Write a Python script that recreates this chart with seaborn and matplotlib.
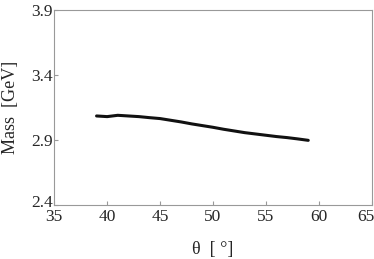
import numpy as np
import pandas as pd
import matplotlib
matplotlib.use("Agg")
import matplotlib.pyplot as plt
import matplotlib.transforms as mtransforms
import seaborn as sns

theta = [39, 40, 41, 42, 43, 44, 45, 46, 47, 48, 49, 50,
         51, 52, 53, 54, 55, 56, 57, 58, 59]
mass = [3.084, 3.079, 3.089, 3.084, 3.079, 3.071, 3.064, 3.051, 3.038, 3.023,
        3.010, 2.997, 2.982, 2.969, 2.956, 2.946, 2.936, 2.926, 2.918, 2.908, 2.897]
xticks = [35, 40, 45, 50, 55, 60, 65]
yticks = [2.4, 2.9, 3.4, 3.9]

sns.set_style("ticks")
plt.rcParams["font.family"] = ["Liberation Serif", "DejaVu Serif"]

df = pd.DataFrame({"theta": theta, "mass": mass})

fig, ax = plt.subplots(figsize=(3.74, 2.59), dpi=100)
sns.lineplot(data=df, x="theta", y="mass", color="#111111", linewidth=2.2, ax=ax)

ax.set_xlim(35, 65)
ax.set_ylim(2.4, 3.9)
ax.set_xticks(xticks)
ax.set_yticks(yticks)
ax.set_yticklabels([f"{v:.1f}" for v in yticks])
ax.tick_params(direction="in", length=3, color="#999999", labelsize=12.5)
ax.tick_params(axis="x", pad=3)
ax.tick_params(axis="y", pad=1)
for s in ax.spines.values():
    s.set_color("#999999")
    s.set_linewidth(0.8)
ax.set_xlabel("θ  [ °]", fontsize=13, labelpad=11)
ax.set_ylabel("Mass  [GeV]", fontsize=13, labelpad=9)

# lift the bottom y label a little so it clears the first x label
low = ax.get_yticklabels()[0]
low.set_transform(low.get_transform() + mtransforms.ScaledTranslation(0, 4 / 100, fig.dpi_scale_trans))
# keep the last x label inside the canvas
last = ax.get_xticklabels()[-1]
last.set_transform(last.get_transform() + mtransforms.ScaledTranslation(-6 / 100, 0, fig.dpi_scale_trans))

fig.subplots_adjust(left=0.145, right=0.994, top=0.963, bottom=0.208)
fig.savefig("out.png", dpi=100)
